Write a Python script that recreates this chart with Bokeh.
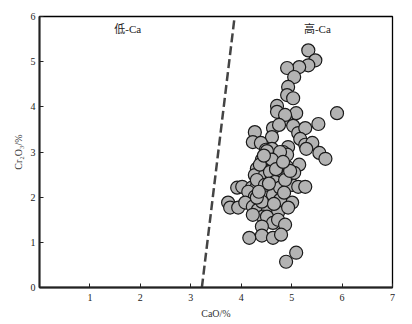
from bokeh.plotting import figure
from bokeh.models import FixedTicker, Range1d, ColumnDataSource
from bokeh.embed import file_html
from bokeh.resources import INLINE
from bokeh.core.properties import value

# CaO (%) and Cr2O3 (%) values
cao = [5.33, 5.47, 5.33, 5.15, 4.91, 5.05, 4.93, 4.91, 5.03, 4.71, 4.71, 5.09, 5.90,
       4.89, 4.87, 4.27, 4.63, 4.75, 5.03, 5.13, 5.27, 5.53, 5.17, 4.61, 4.23, 4.39,
       4.93, 5.27, 5.41, 4.49, 4.61, 4.83, 5.29, 5.55, 5.67, 4.91, 4.57, 4.75, 4.41,
       4.91, 5.15, 4.31, 4.41, 4.63, 4.27, 4.47, 4.61, 4.77, 4.81, 3.92, 4.02, 4.21,
       4.31, 4.61, 4.53, 4.73, 4.87, 5.01, 5.13, 5.27, 4.14, 4.27, 3.74, 3.78, 3.94,
       4.08, 4.23, 4.33, 4.57, 4.73, 4.91, 5.01, 4.53, 4.43, 4.73, 4.63, 4.41, 4.23,
       4.51, 4.63, 4.73, 4.87, 4.41, 4.16, 4.41, 4.63, 4.79, 5.09, 4.89, 4.51, 4.77,
       4.37, 4.61, 4.57, 4.93, 4.31, 4.47, 4.67, 4.77, 4.31, 4.77, 4.93, 5.05, 4.87,
       4.45, 4.69, 4.85, 4.35, 4.55, 4.97, 4.65, 4.83]
cr2o3 = [5.25, 5.03, 4.92, 4.88, 4.86, 4.66, 4.44, 4.26, 4.19, 4.02, 3.89, 3.86, 3.86,
         3.73, 3.82, 3.44, 3.53, 3.60, 3.58, 3.42, 3.53, 3.62, 3.29, 3.33, 3.22, 3.20,
         3.11, 3.16, 3.20, 3.05, 3.07, 3.00, 3.07, 2.98, 2.85, 2.94, 2.80, 2.87, 2.83,
         2.67, 2.72, 2.63, 2.60, 2.65, 2.49, 2.49, 2.41, 2.49, 2.45, 2.21, 2.23, 2.21,
         2.23, 2.16, 2.05, 2.16, 2.21, 2.27, 2.23, 2.23, 2.12, 2.01, 1.88, 1.77, 1.77,
         1.88, 1.79, 1.72, 1.88, 1.88, 1.83, 1.88, 1.72, 1.57, 1.66, 2.05, 1.90, 1.61,
         1.57, 1.43, 1.50, 1.39, 1.35, 1.10, 1.15, 1.10, 1.17, 0.77, 0.57, 3.02, 3.00,
         2.72, 2.83, 2.56, 2.49, 2.38, 2.27, 2.34, 2.21, 1.99, 1.94, 1.77, 2.54, 2.38,
         2.92, 2.62, 2.10, 2.12, 2.30, 2.58, 1.85, 2.78]

# boundary between low-Ca and high-Ca fields
boundary_x = [3.22, 3.87]
boundary_y = [0, 6]

x_ticks = [1, 2, 3, 4, 5, 6, 7]
y_ticks = [0, 1, 2, 3, 4, 5, 6]

field_labels = ["低-Ca", "高-Ca"]
field_x = [1.75, 5.51]
field_y = [5.72, 5.72]

serif = "Liberation Serif"

p = figure(width=404, height=321, output_backend="svg", toolbar_location=None,
           x_range=Range1d(0, 7), y_range=Range1d(0, 6),
           min_border_left=39, min_border_right=12, min_border_top=16, min_border_bottom=33)

p.xgrid.visible = False
p.ygrid.visible = False
p.outline_line_color = "black"
p.outline_line_width = 1.3
p.background_fill_color = "white"
p.border_fill_color = "white"

for ax in (p.xaxis[0], p.yaxis[0]):
    ax.axis_line_width = 2
    ax.axis_line_color = "#222222"
    ax.major_tick_in = 4
    ax.major_tick_out = 0
    ax.minor_tick_line_color = None
    ax.major_tick_line_color = "#222222"
    ax.major_label_text_font = serif
    ax.major_label_text_font_size = "10px"
    ax.major_label_text_color = "#222222"
    ax.axis_label_text_font = serif
    ax.axis_label_text_font_size = "10px"
    ax.axis_label_text_font_style = "normal"
    ax.axis_label_text_color = "#333333"

p.xaxis.ticker = FixedTicker(ticks=x_ticks)
p.yaxis.ticker = FixedTicker(ticks=y_ticks)
p.xaxis.axis_label = "CaO/%"
p.yaxis.axis_label = "Cr₂O₃/%"
p.xaxis.major_label_standoff = 6
p.yaxis.major_label_standoff = 4
p.xaxis.axis_label_standoff = 4
p.yaxis.axis_label_standoff = 4

p.line(boundary_x, boundary_y, line_color="#444444", line_width=2.5, line_dash="9 4")

src = ColumnDataSource(dict(x=cao, y=cr2o3))
p.scatter("x", "y", source=src, size=13, fill_color="#b3b3b3", line_color="#1a1a1a",
          line_width=1.2)

p.text(field_x, field_y, text=field_labels, text_align="center", text_baseline="middle",
       text_font=value("Liberation Serif, Noto Sans CJK SC"), text_font_size="11px",
       text_color="#222222")

open("out.html", "w").write(file_html(p, INLINE))
